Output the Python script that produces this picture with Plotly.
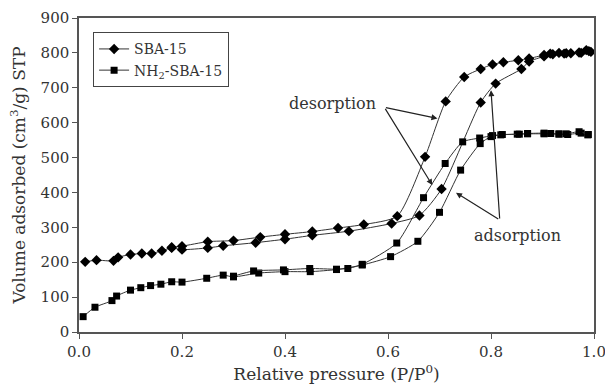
import plotly.graph_objects as go

# SBA-15
sba_ads_x = [0.012, 0.034, 0.067, 0.076, 0.10, 0.122, 0.141, 0.161, 0.18, 0.20, 0.25, 0.28, 0.343, 0.40, 0.453,
             0.524, 0.607, 0.661, 0.704, 0.78, 0.809, 0.859, 0.874, 0.903, 0.92, 0.946, 0.971, 0.99]
sba_ads_y = [201, 206, 204, 214, 222, 225, 225, 233, 241, 236, 241, 247, 256, 266, 277,
             289, 311, 334, 410, 658, 712, 754, 775, 790, 796, 799, 801, 805]
sba_des_x = [0.994, 0.985, 0.975, 0.955, 0.942, 0.932, 0.915, 0.903, 0.874, 0.853, 0.824, 0.803, 0.78, 0.748,
             0.712, 0.672, 0.618, 0.553, 0.503, 0.453, 0.40, 0.352, 0.30, 0.25, 0.20, 0.18]
sba_des_y = [803, 808, 800, 799, 798, 800, 798, 794, 784, 779, 773, 767, 754, 731,
             661, 502, 332, 308, 298, 288, 280, 272, 262, 259, 246, 243]

# NH2-SBA-15
nh_ads_x = [0.008, 0.031, 0.064, 0.073, 0.10, 0.12, 0.139, 0.159, 0.18, 0.20, 0.248, 0.28, 0.30, 0.349, 0.40,
            0.449, 0.50, 0.55, 0.605, 0.658, 0.70, 0.741, 0.779, 0.80, 0.819, 0.851, 0.871, 0.903, 0.932,
            0.949, 0.975, 0.988]
nh_ads_y = [44, 71, 90, 103, 120, 127, 133, 137, 144, 143, 154, 163, 158, 169, 173,
            173, 179, 192, 216, 260, 343, 464, 540, 560, 565, 567, 568, 568, 567,
            566, 570, 565]
nh_des_x = [0.989, 0.971, 0.946, 0.932, 0.916, 0.903, 0.871, 0.855, 0.822, 0.803, 0.778, 0.745, 0.711, 0.669,
            0.617, 0.55, 0.522, 0.50, 0.448, 0.397, 0.339, 0.30]
nh_des_y = [566, 574, 568, 568, 569, 570, 569, 567, 566, 563, 556, 545, 483, 385,
            255, 194, 182, 180, 182, 178, 175, 160]

x_ticks = [0.0, 0.2, 0.4, 0.6, 0.8, 1.0]
x_tick_labels = ["0.0", "0.2", "0.4", "0.6", "0.8", "1.0"]
y_ticks = [0, 100, 200, 300, 400, 500, 600, 700, 800, 900]

FONT = "DejaVu Serif"
TXT = "#333"
fig = go.Figure()

def add(x, y, name, symbol, size, show):
    fig.add_trace(go.Scatter(
        x=x, y=y, mode="lines+markers", name=name, legendgroup=name, showlegend=show,
        line=dict(color="#333", width=1, shape="spline", smoothing=0.6),
        marker=dict(symbol=symbol, size=size, color="black"),
    ))

add(sba_ads_x, sba_ads_y, "SBA-15", "diamond", 8, True)
add(sba_des_x, sba_des_y, "SBA-15", "diamond", 8, False)
add(nh_ads_x, nh_ads_y, "NH<sub>2</sub>-SBA-15", "square", 7, True)
add(nh_des_x, nh_des_y, "NH<sub>2</sub>-SBA-15", "square", 7, False)

arrow = dict(xref="x", yref="y", axref="x", ayref="y", text="", showarrow=True,
             arrowhead=2, arrowsize=1, arrowwidth=1.2, arrowcolor="#222")
# desorption arrows
fig.add_annotation(x=0.696, y=612, ax=0.593, ay=644, **arrow)
fig.add_annotation(x=0.686, y=421, ax=0.593, ay=644, **arrow)
# adsorption arrows
fig.add_annotation(x=0.732, y=399, ax=0.817, ay=321, **arrow)
fig.add_annotation(x=0.800, y=693, ax=0.817, ay=321, **arrow)
fig.add_annotation(x=0.492, y=656, xref="x", yref="y", text="desorption", showarrow=False,
                   font=dict(family=FONT, size=16, color=TXT))
fig.add_annotation(x=0.851, y=278, xref="x", yref="y", text="adsorption", showarrow=False,
                   font=dict(family=FONT, size=16, color=TXT))

axis_common = dict(showline=True, linecolor="#555", linewidth=1.5, mirror=True, automargin=False,
                   ticklabeloverflow="allow",
                   ticks="outside", ticklen=5, tickcolor="#555", showgrid=False, zeroline=False,
                   tickfont=dict(family=FONT, size=15, color=TXT))
fig.update_xaxes(range=[0, 1.0], tickvals=x_ticks, ticktext=x_tick_labels,
                 title=dict(text="Relative pressure (P/P<sup>0</sup>)", font=dict(family=FONT, size=17, color=TXT), standoff=8),
                 **axis_common)
fig.update_yaxes(range=[0, 900], tickvals=y_ticks,
                 title=dict(text="Volume adsorbed (cm<sup>3</sup>/g) STP", font=dict(family=FONT, size=17, color=TXT), standoff=11),
                 **axis_common)

fig.update_layout(
    width=605, height=385, margin=dict(l=79, r=11, t=18, b=53),
    paper_bgcolor="white", plot_bgcolor="white",
    font=dict(family=FONT, color=TXT),
    legend=dict(x=0.027, y=0.955, xanchor="left", yanchor="top", bordercolor="#444", borderwidth=1.2,
                bgcolor="white", font=dict(family=FONT, size=14, color=TXT),
                tracegroupgap=0, itemwidth=30),
)

fig.write_html("out.html")
